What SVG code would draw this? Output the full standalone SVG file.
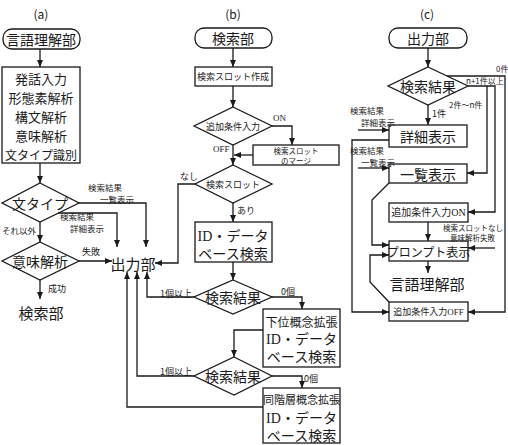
<svg xmlns="http://www.w3.org/2000/svg" width="508" height="445" viewBox="0 0 508 445">
<defs>
<marker id="ah" markerWidth="7" markerHeight="6" refX="7" refY="3" orient="auto" markerUnits="userSpaceOnUse"><path d="M0,0 L7,3 L0,6 Z" fill="#1a1a1a"/></marker>
<style>
text{font-family:"Noto Sans CJK JP","Noto Sans",sans-serif;fill:#1a1a1a;dominant-baseline:central}
.c{text-anchor:middle}
.s{text-anchor:start}
.f15{font-size:15px}.f14{font-size:14px}.f13{font-size:13px}.f12{font-size:12px}.f11{font-size:11px}.f10{font-size:10px}.f9{font-size:9px}.f85{font-size:8.5px}.f8{font-size:8px}.f7{font-size:7.5px}
.sr{font-family:"Liberation Serif","Noto Sans CJK JP",serif}
.box{fill:#fff;stroke:#1a1a1a;stroke-width:1.3}
.ln{fill:none;stroke:#1a1a1a;stroke-width:1.3}
.ar{fill:none;stroke:#1a1a1a;stroke-width:1.3;marker-end:url(#ah)}
</style>
</defs>
<rect width="508" height="445" fill="#fff"/>

<g id="titles">
<text class="c f12" x="41" y="13">(a)</text>
<text class="c f12" x="233" y="13">(b)</text>
<text class="c f12" x="427" y="13">(c)</text>
</g>

<!-- (a) nodes -->
<g id="a_start"><rect class="box" x="3" y="29" width="77" height="20" rx="9"/><text class="c f14" x="41" y="39">言語理解部</text></g>
<g id="a_proc"><rect class="box" x="2" y="67" width="78" height="96"/>
<text class="c f13" x="41" y="78">発話入力</text>
<text class="c f13" x="41" y="97">形態素解析</text>
<text class="c f13" x="41" y="116">構文解析</text>
<text class="c f13" x="41" y="135">意味解析</text>
<text class="c f12" x="41" y="154">文タイプ識別</text></g>
<g id="a_type"><polygon class="box" points="40,183 79,203 40,222 2,203"/><text class="c f14" x="40" y="203">文タイプ</text></g>
<g id="a_sem"><polygon class="box" points="40,242 79,261 40,280 2,261"/><text class="c f14" x="40" y="261">意味解析</text></g>
<g id="a_search"><text class="c f15" x="41" y="312">検索部</text></g>
<g id="a_out"><text class="c f15" x="133" y="263">出力部</text></g>

<!-- (b) nodes -->
<g id="b_start"><rect class="box" x="195" y="28" width="77" height="20" rx="9"/><text class="c f14" x="233" y="38">検索部</text></g>
<g id="b_make"><rect class="box" x="195" y="67" width="77" height="19"/><text class="c f9" x="233" y="76.5">検索スロット作成</text></g>
<g id="b_add"><polygon class="box" points="233,107 272,126 233,145 194,126"/><text class="c f9" x="233" y="126">追加条件入力</text></g>
<g id="b_merge"><rect class="box" x="253" y="145" width="86" height="20"/><text class="c f7" x="296" y="150">検索スロット</text><text class="c f7" x="296" y="160">のマージ</text></g>
<g id="b_slot"><polygon class="box" points="233,165 272,184 233,203 195,184"/><text class="c f9" x="233" y="184">検索スロット</text></g>
<g id="b_db"><rect class="box" x="195" y="222" width="77" height="40"/><text class="c f14 sr" x="233" y="236">ID・データ</text><text class="c f14" x="233" y="253">ベース検索</text></g>
<g id="b_res1"><polygon class="box" points="233,280 272,297 233,314 194,297"/><text class="c f14" x="233" y="297">検索結果</text></g>
<g id="b_lower"><rect class="box" x="263" y="309" width="77" height="58"/><text class="c f12" x="301.5" y="321">下位概念拡張</text><text class="c f14 sr" x="301.5" y="339">ID・データ</text><text class="c f14" x="301.5" y="356">ベース検索</text></g>
<g id="b_res2"><polygon class="box" points="234,357 272,376 234,395 194,376"/><text class="c f14" x="233" y="376">検索結果</text></g>
<g id="b_same"><rect class="box" x="263" y="388" width="77" height="55"/><text class="c f11" x="301.5" y="399">同階層概念拡張</text><text class="c f14 sr" x="301.5" y="418">ID・データ</text><text class="c f14" x="301.5" y="435">ベース検索</text></g>

<!-- (c) nodes -->
<g id="c_start"><rect class="box" x="389" y="28" width="78" height="20" rx="9"/><text class="c f14" x="428" y="38">出力部</text></g>
<g id="c_res"><polygon class="box" points="428,67 468,86 428,105 388,86"/><text class="c f14" x="428" y="86">検索結果</text></g>
<g id="c_detail"><rect class="box" x="389" y="125" width="78" height="22"/><text class="c f14" x="428" y="136">詳細表示</text></g>
<g id="c_list"><rect class="box" x="389" y="164" width="78" height="19"/><text class="c f14" x="428" y="173.5">一覧表示</text></g>
<g id="c_on"><rect class="box" x="389" y="203" width="79" height="19"/><text class="c f10 sr" x="428.5" y="212.5">追加条件入力ON</text></g>
<g id="c_prompt"><rect class="box" x="389" y="241" width="79" height="20"/><text class="c f12" x="428.5" y="251">プロンプト表示</text></g>
<g id="c_lang"><text class="c f15" x="427" y="283">言語理解部</text></g>
<g id="c_off"><rect class="box" x="389" y="302" width="79" height="19"/><text class="c f9 sr" x="428.5" y="311.5">追加条件入力OFF</text></g>

<g id="connectors">
<!-- (a) -->
<line class="ar" x1="40" y1="49" x2="40" y2="67"/>
<line class="ar" x1="40" y1="163" x2="40" y2="183"/>
<polyline class="ar" points="79,203 146,203 146,247"/>
<polyline class="ar" points="58,213 117,213 117,247"/>
<line class="ar" x1="40" y1="222" x2="40" y2="242"/>
<line class="ar" x1="79" y1="261" x2="112" y2="261"/>
<line class="ar" x1="40" y1="280" x2="40" y2="299"/>
<!-- (b) -->
<line class="ar" x1="233" y1="48" x2="233" y2="67"/>
<line class="ar" x1="233" y1="86" x2="233" y2="107"/>
<polyline class="ar" points="272,126 292,126 292,145"/>
<line class="ar" x1="253" y1="155" x2="234" y2="155"/>
<line class="ar" x1="233" y1="145" x2="233" y2="165"/>
<polyline class="ar" points="195,184 178,184 178,263 155,263"/>
<line class="ar" x1="233" y1="203" x2="233" y2="222"/>
<line class="ar" x1="233" y1="262" x2="233" y2="280"/>
<polyline class="ar" points="194,297 147,297 147,272"/>
<polyline class="ar" points="272,297 302,297 302,309"/>
<polyline class="ar" points="263,330 234,330 234,357"/>
<polyline class="ar" points="194,376 137,376 137,272"/>
<polyline class="ar" points="272,376 302,376 302,388"/>
<polyline class="ar" points="263,407 127,407 127,272"/>
<!-- (c) -->
<line class="ar" x1="428" y1="48" x2="428" y2="67"/>
<polyline class="ar" points="447,76 505,76 505,312 468,312"/>
<polyline class="ar" points="468,86 495,86 495,212 468,212"/>
<polyline class="ar" points="487,86 487,173 467,173"/>
<line class="ar" x1="428" y1="105" x2="428" y2="125"/>
<line class="ar" x1="358" y1="130" x2="389" y2="130"/>
<polyline class="ar" points="389,140 352,140 352,312 389,312"/>
<line class="ar" x1="358" y1="168" x2="389" y2="168"/>
<polyline class="ar" points="389,183 372,200 372,245 389,245"/>
<line class="ar" x1="428" y1="222" x2="428" y2="241"/>
<line class="ar" x1="495" y1="248" x2="468" y2="248"/>
<line class="ar" x1="428" y1="261" x2="428" y2="273"/>
<polyline class="ar" points="389,302 370,282 370,255 389,255"/>
</g>

<g id="labels">
<text class="s f85" x="88" y="187">検索結果</text>
<text class="s f85" x="100" y="199">一覧表示</text>
<text class="s f85" x="60" y="216">検索結果</text>
<text class="s f85" x="70" y="228">詳細表示</text>
<text class="s f85" x="2" y="230">それ以外</text>
<text class="s f9" x="82" y="251">失敗</text>
<text class="s f9" x="48" y="288">成功</text>
<text class="s f9 sr" x="273" y="118">ON</text>
<text class="s f9 sr" x="213" y="149">OFF</text>
<text class="s f9" x="180" y="176">なし</text>
<text class="s f9" x="237" y="210">あり</text>
<text class="s f9" x="160" y="293">1個以上</text>
<text class="s f9" x="281" y="291">0個</text>
<text class="s f9" x="160" y="371">1個以上</text>
<text class="s f9" x="304" y="378">0個</text>
<text class="s f8" x="496" y="68">0件</text>
<text class="s f8" x="466" y="80">n+1件以上</text>
<text class="s f8" x="449" y="104">2件〜n件</text>
<text class="s f9" x="432" y="113">1件</text>
<text class="s f85" x="350" y="110">検索結果</text>
<text class="s f85" x="361" y="122">詳細表示</text>
<text class="s f85" x="350" y="150">検索結果</text>
<text class="s f85" x="361" y="162">一覧表示</text>
<text class="s f7" x="443" y="227">検索スロットなし</text>
<text class="s f7" x="450" y="237">意味解析失敗</text>
</g>
</svg>
